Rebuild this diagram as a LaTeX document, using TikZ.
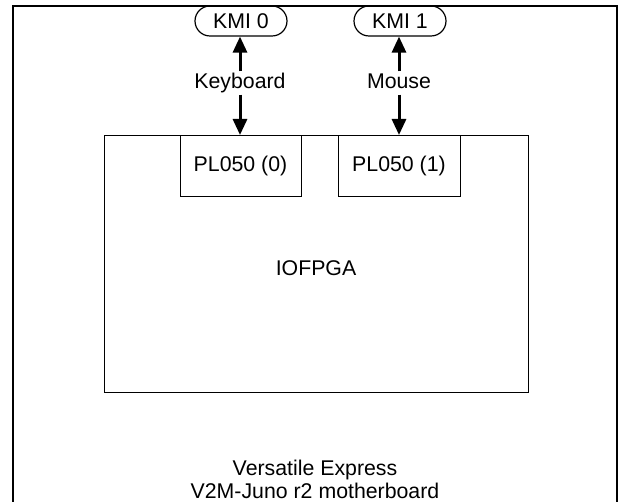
\documentclass[tikz,border=0pt]{standalone}
\usepackage{fontspec}
\setmainfont{Liberation Sans}
\usetikzlibrary{arrows.meta,shapes.misc}
\begin{document}
\begin{tikzpicture}[x=1pt,y=-1pt,
  font=\fontsize{21.3}{23}\selectfont,
  box/.style={draw=black,line width=1.2pt,inner sep=0pt,anchor=north west},
  kmi/.style={draw=black,line width=1.2pt,rounded rectangle,minimum width=92pt,minimum height=30pt,inner sep=0pt},
  link/.style={line width=3pt,-{Triangle[width=14pt,length=16pt]}},
  lbl/.style={inner sep=0pt,align=center},
  conn/.style={inner sep=2pt,fill=white,text height=15pt,text depth=4pt}]
\useasboundingbox (0,0) rectangle (619,502);
% outer board frame (bottom edge lies outside the picture)
\draw[line width=1.3pt] (13,520) -- (13,6) -- (617,6) -- (617,520);
% IOFPGA
\node[box,minimum width=424pt,minimum height=257pt] (fpga) at (104,135) {};
\node[lbl] (fpgal) at (316,268) {IOFPGA};
\node[box,minimum width=121pt,minimum height=61pt] (pl0) at (180,135) {};
\node[lbl] (pl0l) at (240.5,166) {PL050 (0)};
\node[box,minimum width=122pt,minimum height=61pt] (pl1) at (338,135) {};
\node[lbl] (pl1l) at (399,166) {PL050 (1)};
% KMI connectors
\node[kmi] (kmi0) at (241,21) {KMI 0};
\node[kmi] (kmi1) at (400,21) {KMI 1};
\node[conn] (kb) at (240,83) {Keyboard};
\node[conn] (ms) at (399,83) {Mouse};
\coordinate (t0) at (240,135);
\coordinate (t1) at (399,135);
\draw[link] (kb.north -| t0) -- (kmi0.south -| t0);
\draw[link] (kb.south -| t0) -- (t0);
\draw[link] (ms.north -| t1) -- (kmi1.south -| t1);
\draw[link] (ms.south -| t1) -- (t1);
% board label
\node[lbl] (board) at (315,479) {Versatile Express\\V2M-Juno r2 motherboard};
\end{tikzpicture}
\end{document}
